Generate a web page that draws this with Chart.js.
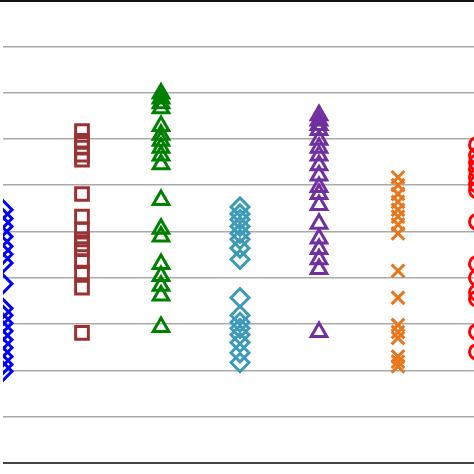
<!DOCTYPE html>
<html><head><style>html,body{margin:0;padding:0;overflow:hidden;background:#fff}#w{position:absolute;left:3px;top:0;width:474px;height:471px}</style>
<script src="https://cdn.jsdelivr.net/npm/chart.js@4"></script></head>
<body><div id="w"><canvas id="c"></canvas></div>
<script>
const toV = ys => ys.map(y => +((470 - y) / 47).toFixed(2));
const blue = toV([213,222,230,240,250,258,267,288,313,320,328,336,345,353,362,370,377]);
const brown = toV([133,143,150,157,162,197,220,233,243,248,253,265,277,292,338]);
const green = toV([95,100,105,110,128,137,143,150,158,167,203,232,240,268,280,290,300,332]);
const teal = toV([210,217,223,230,237,243,252,263,302,320,327,333,340,348,358,368]);
const purple = toV([117,122,127,132,142,150,158,168,178,190,197,208,227,242,253,263,273,337]);
const orange = toV([180,188,197,205,213,220,228,237,275,302,330,337,343,362,367,372]);
const red = toV([147,158,165,172,180,187,193,225,268,282,297,303,337,357]);
const groups = [
 [blue,'#0000ff','rectRot',9],[brown,'#993333','rect',9],[green,'#008000','triangle',9],
 [teal,'#3b9bb8','rectRot',9],[purple,'#7030a0','triangle',9],[orange,'#e8761b','crossRot',9],[red,'#ff0000','circle',7.5]
];
new Chart(document.getElementById('c'), {
 type:'scatter',
 data:{datasets:groups.map((g,i)=>({data:g[0].map(v=>({x:i,y:v})),borderColor:g[1],backgroundColor:'transparent',pointStyle:g[2],pointRadius:g[3],borderWidth:3,clip:false}))},
 options:{responsive:true,maintainAspectRatio:false,animation:false,
  layout:{padding:0,autoPadding:false},
  plugins:{legend:{display:false},tooltip:{enabled:false}},
  scales:{
   x:{type:'linear',min:0,max:6,ticks:{display:false,stepSize:1},grid:{display:false},border:{color:'#444',width:2}},
   y:{min:0,max:10,ticks:{display:false,stepSize:1},grid:{color:'#aaa',lineWidth:1.5,drawTicks:false},border:{display:false}}
  }}
});
</script>
<div style="position:absolute;left:0;top:0;width:474px;height:2px;background:#111"></div>
</body></html>
